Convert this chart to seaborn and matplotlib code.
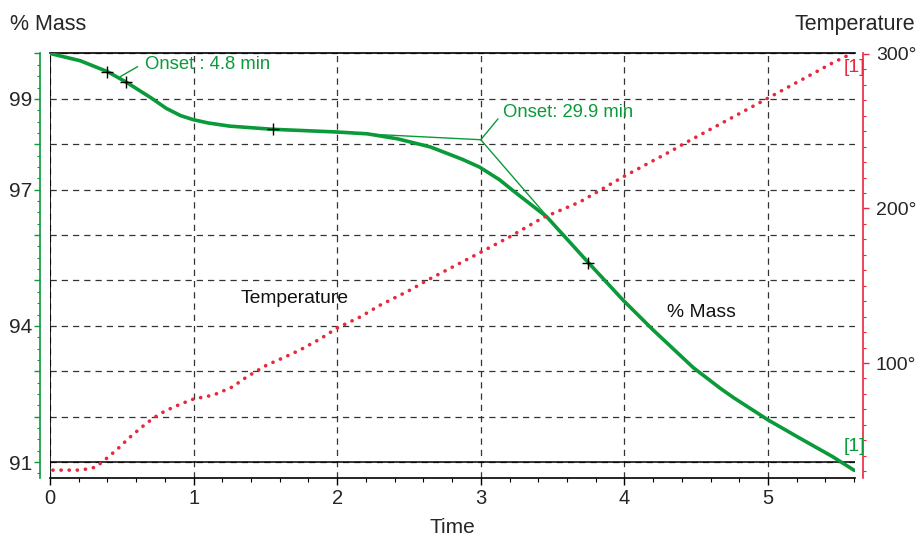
import numpy as np
import pandas as pd
import matplotlib
matplotlib.use("Agg")
import matplotlib.pyplot as plt
from matplotlib.ticker import MultipleLocator, FixedLocator, FixedFormatter
import seaborn as sns

# ---------------- data ----------------
time_mass = [0.0, 0.21, 0.40, 0.53, 0.70, 0.81, 0.91, 1.00, 1.10, 1.25, 1.55, 2.00, 2.21,
             2.42, 2.65, 2.87, 2.99, 3.13, 3.22, 3.46, 3.75, 3.99, 4.20, 4.48, 4.67,
             4.76, 5.00, 5.22, 5.45, 5.60]
mass = [100.0, 99.84, 99.60, 99.37, 99.03, 98.79, 98.63, 98.54, 98.47, 98.40, 98.33, 98.27, 98.23,
        98.12, 97.94, 97.67, 97.50, 97.22, 96.99, 96.40, 95.39, 94.57, 93.91, 93.08, 92.62,
        92.42, 91.93, 91.53, 91.12, 90.82]

time_temp = [0.02, 0.19, 0.26, 0.32, 0.38, 0.47, 0.55, 0.64, 0.72, 0.80, 0.91, 1.00,
             1.14, 1.27, 1.37, 1.51, 1.62, 1.74, 1.88, 2.00, 2.16, 2.30, 2.51, 2.63,
             2.99, 3.20, 3.43, 3.69, 3.99, 4.34, 4.41, 4.99, 5.45, 5.59]
temperature = [30.7, 30.7, 31.4, 32.7, 37.2, 44.3, 51.5, 58.6, 64.4, 68.9, 73.5, 76.7,
               79.3, 84.5, 91.0, 98.7, 103.2, 108.4, 115.5, 122.7, 129.8, 137.5, 147.3, 153.7,
               171.2, 181.6, 193.9, 204.2, 220.4, 237.9, 241.7, 270.9, 294.2, 300.6]

marker_time = [0.40, 0.53, 1.55, 3.75]
marker_mass = [99.60, 99.37, 98.33, 95.39]

# onset tangent construction (second onset)
tangent1_time = [1.55, 3.00]
tangent1_mass = [98.33, 98.10]
tangent2_time = [3.00, 3.47]
tangent2_mass = [98.10, 96.38]

mass_ticks = [91, 92, 93, 94, 95, 96, 97, 98, 99, 100]
mass_labels = ["91", "", "", "94", "", "", "97", "", "99", ""]
temp_ticks = [100, 200, 300]
temp_labels = ["100°", "200°", "300°"]
time_ticks = [0, 1, 2, 3, 4, 5]

onset1_text = "Onset : 4.8 min"
onset2_text = "Onset: 29.9 min"

# ---------------- style ----------------
sns.set_theme(style="white")
plt.rcParams["font.family"] = ["Liberation Sans", "DejaVu Sans"]

GREEN = "#0a9a3a"
RED = "#e8283c"

df_mass = pd.DataFrame({"Time": time_mass, "Mass": mass})
df_temp = pd.DataFrame({"Time": time_temp, "Temperature": temperature})
df_mark = pd.DataFrame({"Time": marker_time, "Mass": marker_mass})

fig = plt.figure(figsize=(9.18, 5.39), dpi=100)
ax = fig.add_axes([50 / 918, 61 / 539, 805 / 918, 425 / 539])
ax2 = ax.twinx()

# grid
ax.set_axisbelow(True)
ax.grid(True, which="major", color="#333333", linestyle=(0, (5, 4)), linewidth=0.9)
ax2.grid(False)

# mass curve
sns.lineplot(data=df_mass, x="Time", y="Mass", ax=ax, color=GREEN, linewidth=2.6,
             sort=False, estimator=None, zorder=4)
for ln in ax.get_lines():
    ln.set_solid_joinstyle("round")
ax.axhline(91, color="black", linewidth=1.1, zorder=3)
ax.axvline(0, color="black", linewidth=1.2, zorder=3)

# tangent lines
ax.plot(tangent1_time, tangent1_mass, color=GREEN, linewidth=1.0, zorder=4)
ax.plot(tangent2_time, tangent2_mass, color=GREEN, linewidth=1.0, zorder=4)

# markers
sns.scatterplot(data=df_mark, x="Time", y="Mass", ax=ax, marker="+", s=70,
                color="black", linewidth=1.0, zorder=6)

# annotations
ax.plot([0.49, 0.61], [99.49, 99.71], color=GREEN, linewidth=1.0, zorder=5)
ax.text(0.66, 99.75, onset1_text, color=GREEN, fontsize=13.3, va="center", ha="left")
ax.plot([3.00, 3.12], [98.10, 98.56], color=GREEN, linewidth=1.0, zorder=5)
ax.text(3.155, 98.71, onset2_text, color=GREEN, fontsize=13.3, va="center", ha="left")

ax.text(1.325, 94.6, "Temperature", color="#111111", fontsize=13.9, va="center", ha="left")
ax.text(4.3, 94.3, "% Mass", color="#111111", fontsize=13.9, va="center", ha="left")

# temperature curve
sns.lineplot(data=df_temp, x="Time", y="Temperature", ax=ax2, color=RED, linewidth=2.6,
             sort=False, estimator=None, zorder=5)
for ln in ax2.get_lines():
    ln.set_linestyle((0, (0.05, 2.2)))
    ln.set_dash_capstyle("round")
ax2.text(5.6, 291.5, "[1]", color=RED, fontsize=14, va="center", ha="center", zorder=7)
ax2.text(5.6, 91.35, "[1]", color=GREEN, fontsize=14, va="center", ha="center", zorder=7,
         transform=ax.transData)

# limits
ax.set_xlim(0, 5.606)
ax.set_ylim(90.65, 100.01)
ax2.set_ylim(25.6, 300.6)

# x axis
ax.xaxis.set_major_locator(FixedLocator(time_ticks))
ax.xaxis.set_minor_locator(MultipleLocator(0.2))
ax.tick_params(axis="x", which="major", direction="out", length=5, width=1, color="black",
               labelsize=14.5, pad=3, bottom=True)
ax.tick_params(axis="x", which="minor", direction="out", length=3, width=0.8, color="black",
               bottom=True)
ax.set_xlabel("Time", fontsize=15, labelpad=7)

# left axis
ax.yaxis.set_major_locator(FixedLocator(mass_ticks))
ax.yaxis.set_major_formatter(FixedFormatter(mass_labels))
ax.yaxis.set_minor_locator(MultipleLocator(0.25))
ax.tick_params(axis="y", which="major", direction="out", length=4, width=1, color=GREEN,
               labelsize=15, pad=2, left=True)
ax.tick_params(axis="y", which="minor", direction="out", length=2.5, width=0.8, color=GREEN,
               left=True)
ax.set_ylabel("% Mass", fontsize=15.5, rotation=0, ha="left", va="center")
ax.yaxis.set_label_coords(-0.0497, 1.066)

# right axis
ax2.yaxis.set_major_locator(FixedLocator(temp_ticks))
ax2.yaxis.set_major_formatter(FixedFormatter(temp_labels))
ax2.yaxis.set_minor_locator(MultipleLocator(10))
ax2.tick_params(axis="y", which="major", direction="out", length=4, width=1, color=RED,
                labelsize=14, pad=5, right=True)
ax2.tick_params(axis="y", which="minor", direction="out", length=2, width=0.8, color=RED,
                right=True)
ax2.set_ylabel("Temperature", fontsize=15.5, rotation=0, ha="right", va="center")
ax2.yaxis.set_label_coords(1.0745, 1.066)

# spines
for sp in ["top", "bottom"]:
    ax.spines[sp].set_color("black")
    ax.spines[sp].set_linewidth(1.2)
ax.spines["left"].set_position(("outward", 7))
ax.spines["left"].set_color(GREEN)
ax.spines["left"].set_linewidth(1.2)
ax.spines["right"].set_visible(False)
ax2.spines["left"].set_visible(False)
ax2.spines["top"].set_visible(False)
ax2.spines["bottom"].set_visible(False)
ax2.spines["right"].set_position(("outward", 6))
ax2.spines["right"].set_color(RED)
ax2.spines["right"].set_linewidth(1.2)

fig.savefig("out.png", dpi=100)
